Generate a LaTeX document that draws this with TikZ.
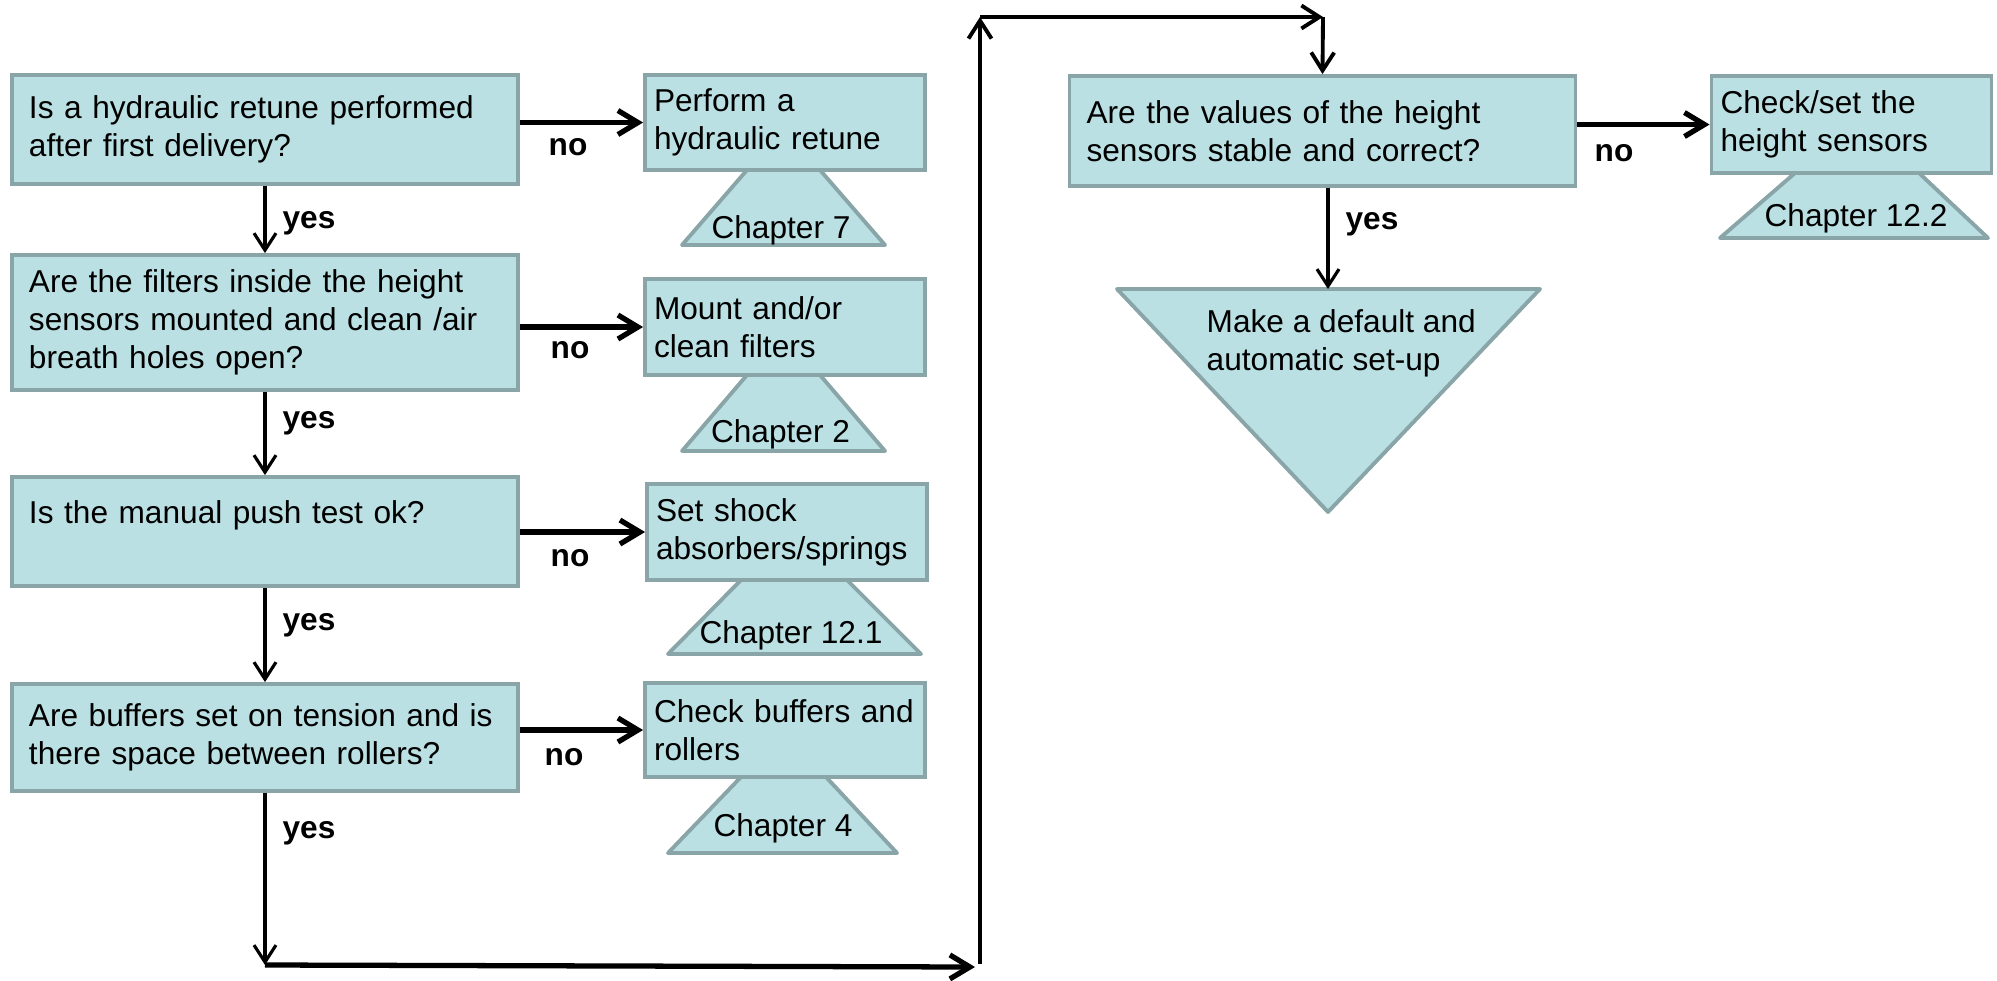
\documentclass[tikz,border=0pt]{standalone}
\usepackage{fontspec}
\setmainfont{Liberation Sans}
\usetikzlibrary{arrows.meta}
\definecolor{boxfill}{RGB}{186,224,227}
\definecolor{boxline}{RGB}{137,165,167}
\hyphenpenalty=10000
\exhyphenpenalty=10000

\begin{document}
\begin{tikzpicture}[
  font=\fontsize{9}{10.8}\selectfont,
  shapebox/.style={draw=boxline, fill=boxfill, line width=1.1pt},
  question/.style={shapebox, minimum width=5.06cm, text width=4.72cm, align=left, inner sep=0pt},
  action/.style={shapebox, minimum width=2.80cm, text width=2.62cm, align=left, inner sep=0pt},
  tag/.style={shapebox, line join=round},
  answer/.style={font=\fontsize{9}{10.8}\selectfont\bfseries},
  yesline/.style={-{Straight Barb[length=1.7mm,width=2.2mm]}, line width=0.9pt},
  noline/.style={-{Straight Barb[length=2mm,width=2.4mm]}, line width=1.5pt},
  linkline/.style={-{Straight Barb[length=1.8mm,width=2.3mm]}, line width=1.1pt}
]

  \useasboundingbox (0,0) rectangle (19.97,9.80);

  % --- Questions ---
  \node[question, minimum height=1.09cm] (q1) at (2.65,8.505) {Is a hydraulic retune performed\\after first delivery?};
  \node[question, minimum height=1.35cm] (q2) at (2.65,6.575) {Are the filters inside the height\\sensors mounted and clean /air\\breath holes open?};
  \node[question, minimum height=1.09cm] (q3) at (2.65,4.485) {Is the manual push test ok?\\\mbox{}};
  \node[question, minimum height=1.07cm] (q4) at (2.65,2.425) {Are buffers set on tension and is\\there space between rollers?};
  \node[question, minimum height=1.10cm] (q5) at (13.225,8.49) {Are the values of the height\\sensors stable and correct?};

  % --- Actions ---
  \node[action, minimum height=0.95cm] (a1) at (7.85,8.575) {Perform a\\hydraulic retune};
  \node[action, minimum height=0.96cm] (a2) at (7.85,6.53) {Mount and/or\\clean filters};
  \node[action, minimum height=0.96cm] (a3) at (7.87,4.48) {Set shock\\absorbers/springs};
  \node[action, minimum height=0.94cm] (a4) at (7.85,2.50) {Check buffers and\\rollers};
  \node[action, minimum height=0.97cm] (a5) at (18.515,8.555) {Check/set the\\height sensors};

  % --- Chapter tags ---
  \draw[tag] (7.47,8.10) -- (8.20,8.10) -- (8.85,7.35) -- (6.82,7.35) -- cycle;
  \draw[tag] (7.47,6.05) -- (8.20,6.05) -- (8.85,5.29) -- (6.82,5.29) -- cycle;
  \draw[tag] (7.41,4.00) -- (8.47,4.00) -- (9.21,3.26) -- (6.68,3.26) -- cycle;
  \draw[tag] (7.41,2.03) -- (8.26,2.03) -- (8.97,1.27) -- (6.68,1.27) -- cycle;
  \draw[tag] (17.95,8.07) -- (19.19,8.07) -- (19.88,7.42) -- (17.20,7.42) -- cycle;

  \node (c1) at (7.81,7.50) {Chapter 7};
  \node (c2) at (7.805,5.46) {Chapter 2};
  \node (c3) at (7.91,3.45) {Chapter 12.1};
  \node (c4) at (7.83,1.52) {Chapter 4};
  \node (c5) at (18.56,7.62) {Chapter 12.2};

  % --- Final step ---
  \coordinate (mk) at (13.28,6.91);
  \draw[tag] (11.17,6.91) -- (15.40,6.91) -- (13.28,4.68) -- cycle;
  \node[anchor=west, align=left, inner sep=0pt] (setup) at (12.06,6.365) {Make a default and\\automatic set-up};

  % --- Route points ---
  \coordinate (b1) at (2.65,0.15);
  \coordinate (b2) at (9.75,0.13);
  \coordinate (b3) at (9.80,0.16);
  \coordinate (t1) at (9.80,9.63);
  \coordinate (t2) at (13.23,9.63);

  % --- yes arrows ---
  \draw[yesline] (q1.south) -- (q2.north);
  \draw[yesline] (q2.south) -- (q3.north);
  \draw[yesline] (q3.south) -- (q4.north);
  \draw[yesline] (q4.south) -- (b1);
  \draw[yesline] (q5.south -| mk) -- (mk);

  % --- no arrows ---
  \draw[noline] (q1.east |- a1.west) -- (a1.west);
  \draw[noline] (q2.east |- a2.west) -- (a2.west);
  \draw[noline] (q3.east |- a3.west) -- (a3.west);
  \draw[noline] (q4.east |- a4.west) -- (a4.west);
  \draw[noline] (q5.east |- a5.west) -- (a5.west);

  % --- Link to second column ---
  \draw[noline] (b1) -- (b2);
  \draw[linkline] (b3) -- (t1);
  \draw[linkline] (t1) -- (t2);
  \draw[linkline] (t2) -- (q5.north);

  % --- Labels ---
  \node[answer] (no1) at (5.68,8.33) {no};
  \node[answer] (no2) at (5.70,6.30) {no};
  \node[answer] (no3) at (5.70,4.22) {no};
  \node[answer] (no4) at (5.64,2.23) {no};
  \node[answer] (no5) at (16.14,8.27) {no};

  \node[answer] (yes1) at (3.09,7.57) {yes};
  \node[answer] (yes2) at (3.09,5.57) {yes};
  \node[answer] (yes3) at (3.09,3.55) {yes};
  \node[answer] (yes4) at (3.09,1.47) {yes};
  \node[answer] (yes5) at (13.72,7.56) {yes};

\end{tikzpicture}
\end{document}
